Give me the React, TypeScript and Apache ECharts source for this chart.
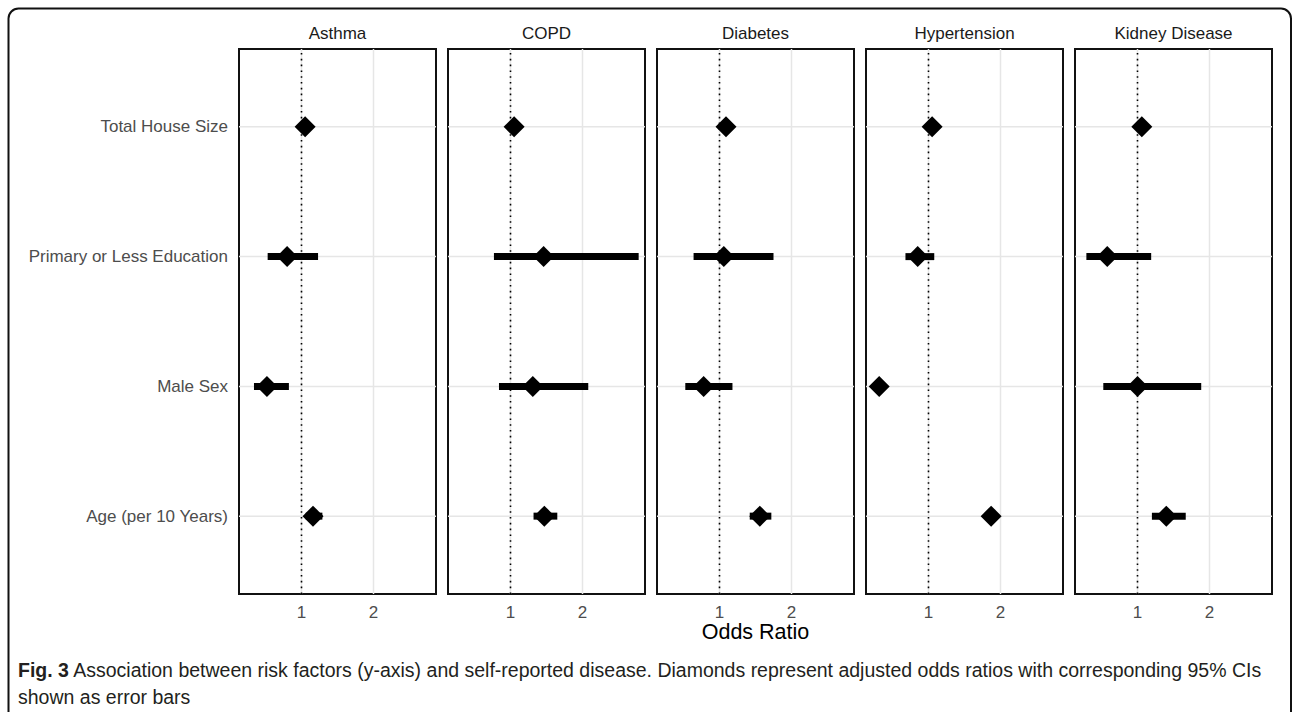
import React, { useEffect, useRef } from "react";
import * as echarts from "echarts";

const diseases = ["Asthma", "COPD", "Diabetes", "Hypertension", "Kidney Disease"];
// top to bottom
const factors = ["Total House Size", "Primary or Less Education", "Male Sex", "Age (per 10 Years)"];

const oddsRatio = [
  [1.05, 0.80, 0.52, 1.16],
  [1.05, 1.46, 1.31, 1.47],
  [1.09, 1.06, 0.78, 1.56],
  [1.05, 0.85, 0.315, 1.87],
  [1.06, 0.58, 1.00, 1.40],
];
const ciLower = [
  [1.00, 0.53, 0.34, 1.06],
  [0.98, 0.77, 0.84, 1.32],
  [1.03, 0.64, 0.525, 1.42],
  [1.00, 0.68, 0.28, 1.82],
  [1.00, 0.29, 0.525, 1.20],
];
const ciUpper = [
  [1.10, 1.23, 0.825, 1.29],
  [1.12, 2.78, 2.08, 1.65],
  [1.15, 1.75, 1.18, 1.72],
  [1.10, 1.08, 0.35, 1.92],
  [1.12, 1.19, 1.885, 1.67],
];
const xTicks = [1, 2];
const refLine = 1;
const xMin = 0.132;
const xMax = 2.868;
const yMin = 0.4;
const yMax = 4.6;

const FONT = "'Liberation Sans', Arial, sans-serif";

export default function App() {
  const ref = useRef<HTMLDivElement>(null);
  useEffect(() => {
    if (!ref.current) return;
    const chart = echarts.init(ref.current, null, { renderer: "svg", width: 1292, height: 712 });
    const panelLeft = 239;
    const panelStep = 209;
    const panelW = 197;
    const panelTop = 49;
    const panelH = 545;
    const nRows = factors.length;
    const rowY = (k: number) => nRows - k;

    const grids: any[] = [];
    const xAxes: any[] = [];
    const yAxes: any[] = [];
    const series: any[] = [];
    const graphics: any[] = [];

    diseases.forEach((d, i) => {
      grids.push({
        left: panelLeft + panelStep * i,
        top: panelTop,
        width: panelW,
        height: panelH,
        show: true,
        borderColor: "#111",
        borderWidth: 2,
        backgroundColor: "#fff",
        z: 0,
      });
      xAxes.push({
        gridIndex: i,
        type: "value",
        min: xMin,
        max: xMax,
        axisLine: { show: false },
        axisTick: { show: false },
        splitLine: { show: false },
        axisLabel: {
          customValues: xTicks,
          color: "#4d4d4d",
          fontSize: 17,
          fontFamily: FONT,
          margin: 10,
        },
      });
      yAxes.push({
        gridIndex: i,
        type: "value",
        min: yMin,
        max: yMax,
        axisLine: { show: false },
        axisTick: { show: false },
        splitLine: { show: false },
        axisLabel: {
          show: i === 0,
          customValues: factors.map((_, k) => rowY(k)),
          formatter: (v: number) => factors[nRows - Math.round(v)] ?? "",
          color: "#4d4d4d",
          fontSize: 17,
          fontFamily: FONT,
          margin: 11,
        },
      });
      // grid lines
      const gridData: any[] = [
        ...xTicks.map((v) => [0, v]),
        ...factors.map((_, k) => [1, rowY(k)]),
      ];
      series.push({
        type: "custom",
        xAxisIndex: i,
        yAxisIndex: i,
        silent: true,
        z: 1,
        data: gridData,
        renderItem: (params: any, api: any) => {
          const kind = api.value(0);
          const v = api.value(1);
          let a, b;
          if (kind === 0) {
            a = api.coord([v, yMin]);
            b = api.coord([v, yMax]);
          } else {
            a = api.coord([xMin, v]);
            b = api.coord([xMax, v]);
          }
          return {
            type: "line",
            shape: { x1: a[0], y1: a[1], x2: b[0], y2: b[1] },
            style: { stroke: "#e6e6e6", lineWidth: 1.5 },
          };
        },
      });
      // reference line
      series.push({
        type: "custom",
        xAxisIndex: i,
        yAxisIndex: i,
        silent: true,
        z: 2,
        data: [[refLine]],
        renderItem: (params: any, api: any) => {
          const a = api.coord([api.value(0), yMin]);
          const b = api.coord([api.value(0), yMax]);
          return {
            type: "line",
            shape: { x1: a[0], y1: a[1], x2: b[0], y2: b[1] },
            style: { stroke: "#000", lineWidth: 1.6, lineDash: [1.6, 4.2] },
          };
        },
      });
      // error bars
      series.push({
        type: "custom",
        xAxisIndex: i,
        yAxisIndex: i,
        silent: true,
        z: 3,
        encode: { x: [1, 2], y: 0 },
        data: factors.map((_, k) => [rowY(k), ciLower[i][k], ciUpper[i][k]]),
        renderItem: (params: any, api: any) => {
          const a = api.coord([api.value(1), api.value(0)]);
          const b = api.coord([api.value(2), api.value(0)]);
          return {
            type: "line",
            shape: { x1: a[0], y1: a[1], x2: b[0], y2: b[1] },
            style: { stroke: "#000", lineWidth: 7, lineCap: "butt" },
          };
        },
      });
      // diamonds
      series.push({
        type: "scatter",
        xAxisIndex: i,
        yAxisIndex: i,
        silent: true,
        z: 4,
        symbol: "diamond",
        symbolSize: [21, 21],
        itemStyle: { color: "#000", opacity: 1 },
        data: factors.map((_, k) => [oddsRatio[i][k], rowY(k)]),
      });
      graphics.push({
        type: "text",
        x: panelLeft + panelStep * i + panelW / 2,
        y: 33,
        style: {
          text: d,
          fill: "#1a1a1a",
          fontSize: 17,
          fontFamily: FONT,
          align: "center",
          verticalAlign: "middle",
        },
      });
    });

    graphics.push({
      type: "text",
      x: (panelLeft + panelLeft + panelStep * 4 + panelW) / 2,
      y: 632,
      style: {
        text: "Odds Ratio",
        fill: "#000",
        fontSize: 21.5,
        fontFamily: FONT,
        align: "center",
        verticalAlign: "middle",
      },
    });
    graphics.push({
      type: "rect",
      shape: { x: 8.5, y: 8.5, width: 1282.5, height: 760, r: 10 },
      style: { fill: "none", stroke: "#111", lineWidth: 2 },
      z: 10,
    });
    graphics.push({
      type: "text",
      x: 18,
      y: 656,
      style: {
        text:
          "{b|Fig. 3} Association between risk factors (y-axis) and self-reported disease. Diamonds represent adjusted odds ratios with corresponding 95% CIs\nshown as error bars",
        fill: "#231f20",
        fontSize: 19.5,
        lineHeight: 27,
        fontFamily: FONT,
        rich: {
          b: {
            fontWeight: "bold",
            fontSize: 19.5,
            lineHeight: 27,
            fill: "#231f20",
            fontFamily: FONT,
          },
        },
      },
      z: 10,
    });

    chart.setOption({
      animation: false,
      backgroundColor: "#fff",
      grid: grids,
      xAxis: xAxes,
      yAxis: yAxes,
      series,
      graphic: graphics,
    });
    return () => chart.dispose();
  }, []);
  return (
    <div
      ref={ref}
      style={{ position: "fixed", left: 0, top: 0, width: 1292, height: 712, background: "#fff" }}
    />
  );
}
